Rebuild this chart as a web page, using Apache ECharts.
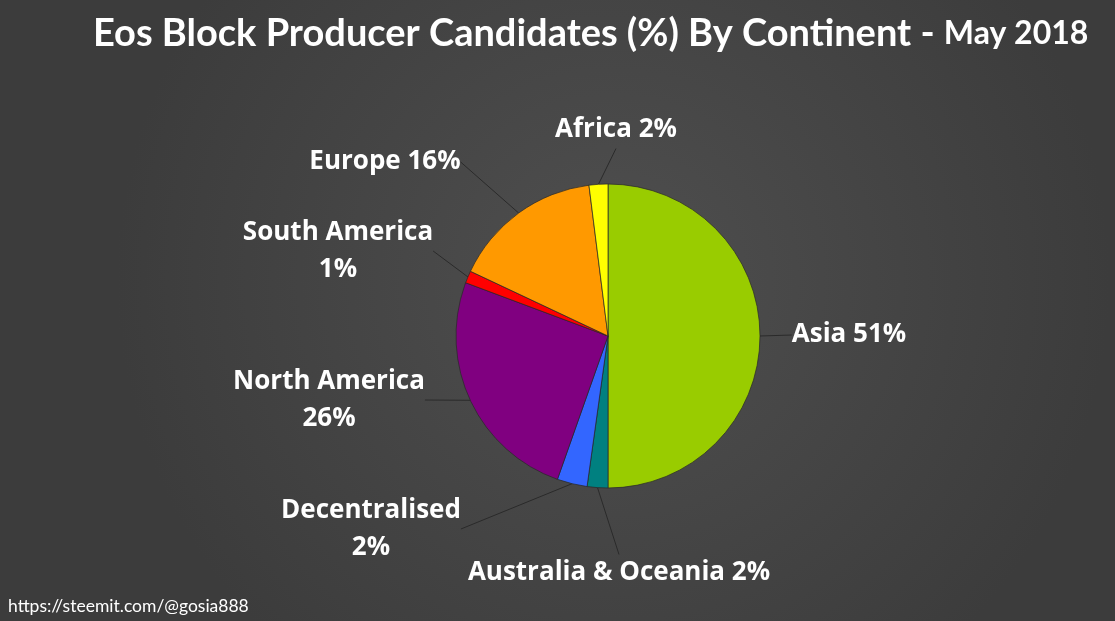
<!DOCTYPE html>
<html>
<head>
<meta charset="utf-8">
<script src="https://cdn.jsdelivr.net/npm/echarts@6/dist/echarts.min.js"></script>
<style>
html,body{margin:0;padding:0;background:#474747;}
#chart{width:1115px;height:621px;}
</style>
</head>
<body>
<div id="chart"></div>
<script>
// ---- data ----
var names = ['Asia', 'Australia & Oceania', 'Decentralised', 'North America', 'South America', 'Europe', 'Africa'];
var percentLabels = [51, 2, 2, 26, 1, 16, 2];
// slice shares as drawn in the picture (estimated angles)
var shares = [50, 2.2, 3.2, 25.3, 1.3, 16, 2];
var colors = ['#99CC00', '#008080', '#3366FF', '#800080', '#FF0000', '#FF9900', '#FFFF00'];
var titleMain = 'Eos Block Producer Candidates (%) By Continent';
var titleSub = 'May 2018';
var footer = 'https://steemit.com/@gosia888';

// ---- label layout (positions of label centres) ----
var labelPos = [
  {x: 849, y: 335, wrap: false},
  {x: 619, y: 573, wrap: false},
  {x: 371, y: 529, wrap: true},
  {x: 329, y: 400, wrap: true},
  {x: 338, y: 251, wrap: true},
  {x: 385, y: 162, wrap: false},
  {x: 616, y: 130, wrap: false}
];

var chart = echarts.init(document.getElementById('chart'), null, {renderer: 'canvas'});
var data = names.map(function (n, i) {
  return {
    name: n,
    value: shares[i],
    itemStyle: {color: colors[i]},
    label: {formatter: n + (labelPos[i].wrap ? '\n' : ' ') + percentLabels[i] + '%'}
  };
});

chart.setOption({
  backgroundColor: {
    type: 'radial', x: 0.55, y: 0.45, r: 0.8,
    colorStops: [{offset: 0, color: '#4f4f4f'}, {offset: 1, color: '#3c3c3c'}]
  },
  title: {
    text: '{m|' + titleMain + ' - }{s|' + titleSub + '}',
    left: 88, top: 10,
    textStyle: {
      rich: {
        m: {fontFamily: 'Lato', fontWeight: 'bold', fontSize: 38, color: '#ffffff'},
        s: {fontFamily: 'Lato', fontWeight: 'bold', fontSize: 32, color: '#ffffff'}
      }
    }
  },
  graphic: [{
    type: 'text', left: 8, top: 597,
    style: {text: footer, fill: '#ffffff', font: '17.5px Lato'}
  }],
  series: [{
    type: 'pie',
    center: [608, 336],
    radius: 152,
    startAngle: 90,
    clockwise: true,
    animation: false,
    data: data,
    itemStyle: {borderColor: 'rgba(40,40,40,0.7)', borderWidth: 1},
    label: {
      show: true, position: 'outside',
      color: '#ffffff', fontFamily: 'Open Sans', fontWeight: 'bold', fontSize: 26,
      lineHeight: 37, align: 'center'
    },
    labelLine: {show: true, length: 10, length2: 0, lineStyle: {color: '#2a2a2a', width: 1}},
    labelLayout: function (p) {
      var lp = labelPos[p.dataIndex];
      return {x: lp.x, y: lp.y, align: 'center', verticalAlign: 'middle'};
    },
    emphasis: {disabled: true}
  }]
});
</script>
</body>
</html>
